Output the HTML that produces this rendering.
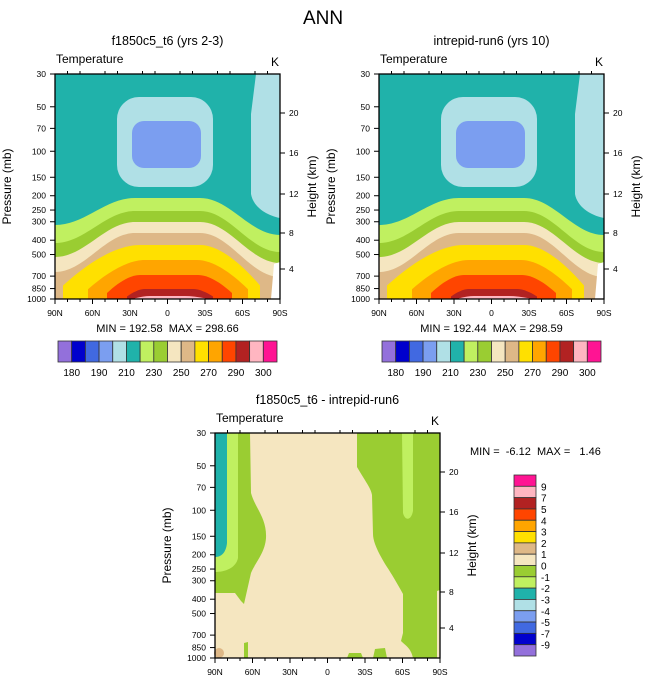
<!DOCTYPE html>
<html><head><meta charset="utf-8"><style>
html,body{margin:0;padding:0;background:#fff}
svg{display:block;font-family:"Liberation Sans",sans-serif}
text{white-space:pre}
</style></head><body>
<svg id="c" width="647" height="683" viewBox="0 0 647 683" xmlns="http://www.w3.org/2000/svg">
<text x="323" y="24" font-size="19" text-anchor="middle">ANN</text>
</svg>
<script>
const NS="http://www.w3.org/2000/svg";
const svg=document.getElementById('c');
// data arrays
const pressureTicks=[30,50,70,100,150,200,250,300,400,500,700,850,1000];
const heightTicks=[20,16,12,8,4];
const heightTickY=[39,79,120,159,195];
const latTicks=["90N","60N","30N","0","30S","60S","90S"];
const absLevels=["180","190","210","230","250","270","290","300"];
const diffLevels=["9","7","5","4","3","2","1","0","-1","-2","-3","-4","-5","-7","-9"];
const palette=["#9370db","#0000cd","#4169e1","#7b9ef0","#b0e0e6","#20b2aa","#c0f060","#9acd32","#f5e6c0","#deb887","#ffe000","#ffa500","#ff4500","#b22222","#ffb6c1","#ff1493"];
const W=225,H=225;
function el(tag,attrs,parent){const e=document.createElementNS(NS,tag);for(const k in attrs)e.setAttribute(k,attrs[k]);(parent||svg).appendChild(e);return e;}
function txt(x,y,s,size,anchor,parent,rot){const t=el('text',{x:x,y:y,'font-size':size,'text-anchor':anchor||'start'},parent);if(rot)t.setAttribute('transform',`rotate(-90 ${x} ${y})`);t.textContent=s;return t;}
function yP(p){return H*Math.log(p/30)/Math.log(1000/30);}

function drawAbsField(g){
  el('rect',{x:0,y:0,width:W,height:H,fill:"#20b2aa"},g);
  el('path',{d:"M201,0 L225,0 L225,144 C210,141 198,132 196,120 L196,40 Z",fill:"#b0e0e6"},g);
  el('rect',{x:62,y:23,width:96,height:90,rx:22,fill:"#b0e0e6"},g);
  el('rect',{x:77,y:47,width:69,height:47,rx:12,fill:"#7b9ef0"},g);
  const bands=[["#c0f060",151,124,161],["#9acd32",169,137,178],["#f5e6c0",183,148,189],["#deb887",198,159,203]];
  bands.forEach(b=>{el('path',{d:`M0,${b[1]} C30,${b[1]} 50,${b[2]} 80,${b[2]} L145,${b[2]} C175,${b[2]} 195,${b[3]} 225,${b[3]} L225,225 L0,225 Z`,fill:b[0]},g);});
  // color, left base, right base, top y, flat start, flat end
  const domes=[["#ffe000",8,205,171,85,145],["#ffa500",33,193,186,90,142],["#ff4500",52,177,201,85,143],["#b22222",72,158,215,90,138],["#ffb6c1",80,150,222,95,130]];
  domes.forEach(d=>{const tip=Math.min(225,d[3]+(225-d[3])*0.75);
    el('path',{d:`M${d[1]},225 L${d[1]},${tip} C${d[1]+(d[4]-d[1])*0.35},${d[3]+(tip-d[3])*0.4} ${d[4]-(d[4]-d[1])*0.3},${d[3]} ${d[4]},${d[3]} L${d[5]},${d[3]} C${d[5]+(d[2]-d[5])*0.3},${d[3]} ${d[2]-(d[2]-d[5])*0.35},${d[3]+(tip-d[3])*0.4} ${d[2]},${tip} L${d[2]},225 Z`,fill:d[0]},g);});
  el('path',{d:"M219,190 L225,188 L225,225 L216,225 Z",fill:"#fff"},g);
}
function drawDiffField(g){
  el('rect',{x:0,y:0,width:W,height:H,fill:"#f5e6c0"},g);
  el('path',{d:"M0,0 L35,0 L36,60 C40,75 52,85 51,105 C50,120 40,130 36,140 L29,171 L26,168 L20,160 L0,160 Z",fill:"#9acd32"},g);
  el('path',{d:"M0,0 L23,0 L23,125 C21,135 10,139 0,139 Z",fill:"#c0f060"},g);
  el('path',{d:"M0,0 L12,0 L12,110 C11,120 6,124 0,124 Z",fill:"#20b2aa"},g);
  el('path',{d:"M142,0 L225,0 L225,157 L222,158 L222,225 L198,225 C196,215 190,212 186,208 L188,200 L188,161 C182,150 176,140 172,134 C162,118 158,108 158,101 L157,62 C156,55 150,48 142,34 Z",fill:"#9acd32"},g);
  el('path',{d:"M187,0 L198,0 L198,78 C196,88 190,88 188,80 Z",fill:"#c0f060"},g);
  el('circle',{cx:4,cy:220,r:5,fill:"#deb887"},g);
  el('path',{d:"M29,225 L29,210 L33,209 L33,225 Z",fill:"#9acd32"},g);
  el('path',{d:"M132,225 L134,220 L146,220 L148,225 Z",fill:"#9acd32"},g);
  el('path',{d:"M158,225 L160,216 L170,215 L172,225 Z",fill:"#9acd32"},g);
}

function panel(ox,oy,title,kind,mn,mx){
  const g=el('g',{transform:`translate(${ox},${oy})`});
  
  
  const f=el('g',{},g);
  
  
  if(kind==='diff')drawDiffField(f);else drawAbsField(f);
  el('rect',{x:0,y:0,width:W,height:H,fill:'none',stroke:'#000','stroke-width':1.3},g);
  const t1=txt(W/2,-29,title,12.5,'middle',g);
  
  const t2=txt(1,-11,"Temperature",12,'start',g);
  
  const t3=txt(W-1,-8,"K",12,'end',g);
  
  pressureTicks.forEach(p=>{const y=yP(p);el('line',{x1:-5,x2:0,y1:y,y2:y,stroke:'#000'},g);
    const l=txt(-9,y+3,String(p),8.5,'end',g);});
  heightTicks.forEach((h,i)=>{const y=heightTickY[i];el('line',{x1:W,x2:W+5,y1:y,y2:y,stroke:'#000'},g);
    const l=txt(W+9,y+3,String(h),8.5,'start',g);});
  for(let i=0;i<=18;i++){const x=W*i/18;const major=i%3===0;
    el('line',{x1:x,x2:x,y1:H,y2:H+(major?5:3),stroke:'#000'},g);
    if(i>0&&i<18&&!major)el('line',{x1:x,x2:x,y1:0,y2:-3,stroke:'#000'},g);}
  latTicks.forEach((s,i)=>{const l=txt(W*i/6,H+17,s,8.5,'middle',g);});
  const ya=txt(-44,H/2,"Pressure (mb)",12,'middle',g,true);
  const yb=txt(W+36,H/2,"Height (km)",12,'middle',g,true);
  if(kind!=='diff'){
    const m=txt(W/2,H+33,`MIN = ${mn}  MAX = ${mx}`,11,'middle',g);
    
  }
  return g;
}
function hColorbar(x0,y0){
  const g=el('g',{});
  
  const w=219/16;
  palette.forEach((c,i)=>{const r=el('rect',{x:x0+i*w,y:y0,width:w,height:21,fill:c,stroke:'#333','stroke-width':0.8},g);
    });
  absLevels.forEach((s,i)=>{const l=txt(x0+(2*i+1)*w,y0+35,s,10,'middle',g);});
}
panel(55,74,"f1850c5_t6 (yrs 2-3)","model1","192.58","298.66");
hColorbar(58,341);
panel(379,74,"intrepid-run6 (yrs 10)","model2","192.44","298.59");
hColorbar(382,341);
panel(215,433,"f1850c5_t6 - intrepid-run6","diff","","");
const mm=txt(470,455,"MIN =  -6.12  MAX =   1.46",11,'start');

const vg=el('g',{});

const bh=181/16;
palette.slice().reverse().forEach((c,i)=>{const r=el('rect',{x:514,y:475+i*bh,width:22,height:bh,fill:c,stroke:'#333','stroke-width':0.8},vg);
  });
diffLevels.forEach((s,i)=>{const l=txt(541,475+(i+1)*bh+4,s,10,'start',vg);});
</script>
</body></html>
